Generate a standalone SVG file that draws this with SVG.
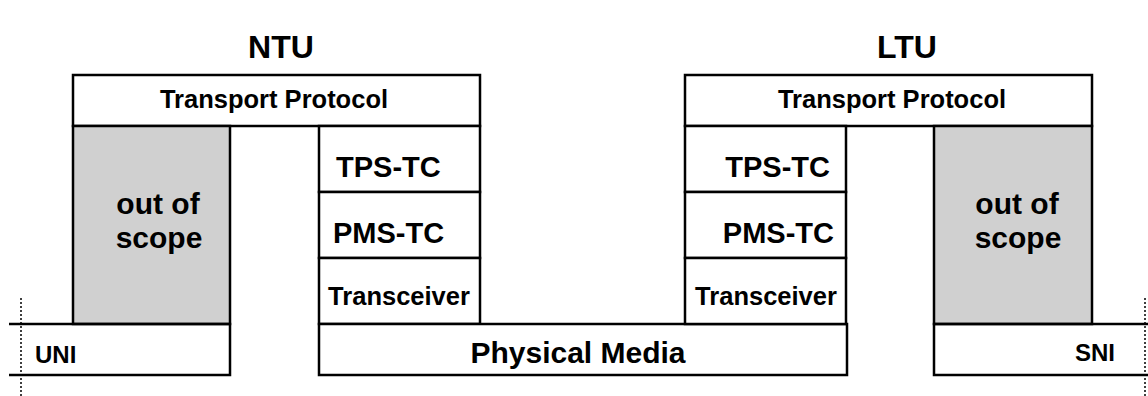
<svg xmlns="http://www.w3.org/2000/svg" width="1148" height="396" viewBox="0 0 1148 396">
<style>
text{font-family:"Liberation Sans",Arial,sans-serif;font-weight:bold;fill:#000}
.box{fill:#fff;stroke:#000;stroke-width:2.5}
.grey{fill:#d0d0d0;stroke:#000;stroke-width:2.5}
.ln{fill:none;stroke:#000;stroke-width:2.5}
.dot{fill:none;stroke:#000;stroke-width:1.5;stroke-dasharray:2 2}
.title{font-size:32px}
.tp{font-size:25.5px}
.tc{font-size:29px}
.tr{font-size:25.5px}
.oos{font-size:30px}
.pm{font-size:30px}
.if{font-size:24px}
</style>
<rect width="1148" height="396" fill="#fff"/>
<g id="title-ntu"><text class="title" x="281" y="58" text-anchor="middle">NTU</text></g>
<g id="title-ltu"><text class="title" x="907" y="58" text-anchor="middle">LTU</text></g>

<g id="ntu-transport-protocol">
<rect class="box" x="73" y="75" width="407" height="51"/>
<text class="tp" x="274" y="108" text-anchor="middle">Transport Protocol</text>
</g>
<g id="ntu-out-of-scope">
<rect class="grey" x="73" y="126" width="157" height="198"/>
<text class="oos" x="158" y="214" text-anchor="middle">out of</text>
<text class="oos" x="159" y="248" text-anchor="middle">scope</text>
</g>
<g id="ntu-tps-tc">
<rect class="box" x="319" y="126" width="161" height="66"/>
<text class="tc" x="336" y="177">TPS-TC</text>
</g>
<g id="ntu-pms-tc">
<rect class="box" x="319" y="192" width="161" height="66"/>
<text class="tc" x="333" y="243">PMS-TC</text>
</g>
<g id="ntu-transceiver">
<rect class="box" x="319" y="258" width="161" height="66"/>
<text class="tr" x="399" y="305" text-anchor="middle">Transceiver</text>
</g>
<g id="uni">
<path class="ln" d="M9 324H230V375H9"/>
<text class="if" x="35" y="363">UNI</text>
</g>
<g id="physical-media">
<rect class="box" x="319" y="324" width="528" height="51"/>
<text class="pm" x="578" y="363" text-anchor="middle">Physical Media</text>
</g>

<g id="ltu-transport-protocol">
<rect class="box" x="685" y="75" width="407" height="51"/>
<text class="tp" x="892" y="108" text-anchor="middle">Transport Protocol</text>
</g>
<g id="ltu-tps-tc">
<rect class="box" x="685" y="126" width="161" height="66"/>
<text class="tc" x="830" y="177" text-anchor="end">TPS-TC</text>
</g>
<g id="ltu-pms-tc">
<rect class="box" x="685" y="192" width="161" height="66"/>
<text class="tc" x="834" y="243" text-anchor="end">PMS-TC</text>
</g>
<g id="ltu-transceiver">
<rect class="box" x="685" y="258" width="161" height="66"/>
<text class="tr" x="766" y="305" text-anchor="middle">Transceiver</text>
</g>
<g id="ltu-out-of-scope">
<rect class="grey" x="934" y="126" width="158" height="198"/>
<text class="oos" x="1017" y="214" text-anchor="middle">out of</text>
<text class="oos" x="1018" y="248" text-anchor="middle">scope</text>
</g>
<g id="sni">
<path class="ln" d="M1148 324H934V375H1148"/>
<text class="if" x="1075" y="361">SNI</text>
</g>

<g id="connectors">
<line class="dot" x1="21" y1="298" x2="21" y2="396"/>
<line class="dot" x1="1145" y1="298" x2="1145" y2="396"/>
</g>
</svg>
